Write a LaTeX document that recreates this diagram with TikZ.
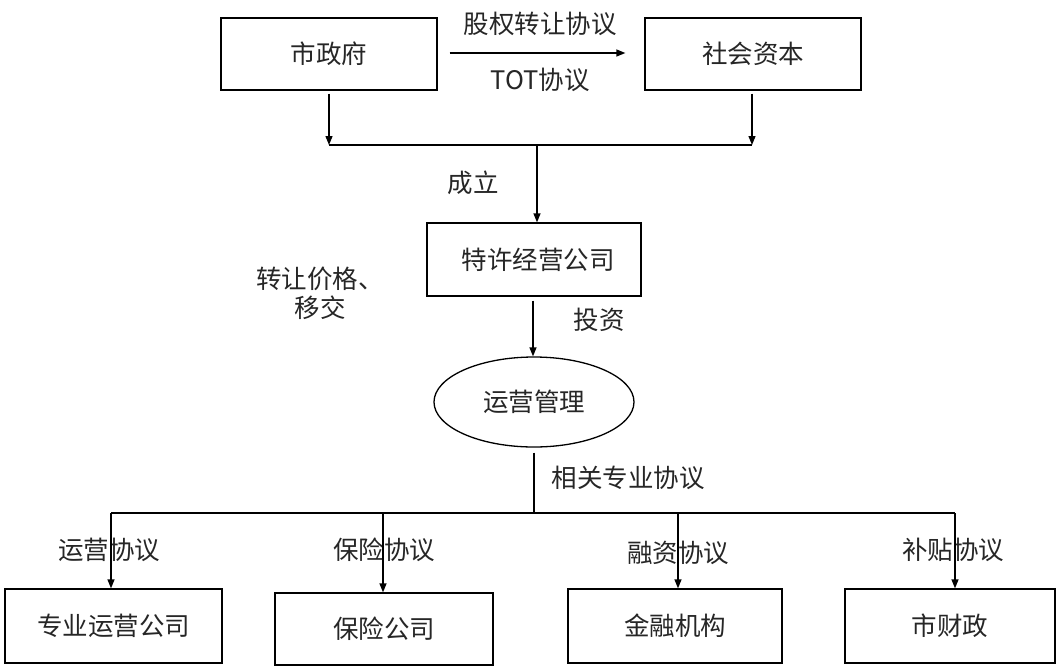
\documentclass[tikz,border=0pt]{standalone}
\usepackage{fontspec}
\setmainfont{Noto Sans CJK SC}
\usetikzlibrary{arrows.meta,shapes.geometric}
\begin{document}
\begin{tikzpicture}[x=1pt,y=-1pt,
  every node/.style={font=\fontsize{25.5}{31}\selectfont, text=black!85},
  box/.style={draw, line width=1.3pt, rectangle, inner sep=0pt},
  oval/.style={draw, line width=1.3pt, ellipse, inner sep=0pt, minimum width=200pt, minimum height=90pt},
  lbl/.style={inner sep=0pt},
  conn/.style={line width=1.3pt},
  arr/.style={conn, -{Triangle[length=9pt,width=7pt]}}]
\useasboundingbox (0,0) rectangle (1060,667);
% top boxes
\node[box, minimum width=216pt, minimum height=72pt] (gov) at (329,54) {市政府};
\node[box, minimum width=216pt, minimum height=72pt] (soc) at (753,54) {社会资本};
\node[box, minimum width=214pt, minimum height=73pt] (fr) at (534,259.5) {\hspace*{8pt}特许经营公司};
\node[oval] (op) at (534,402) {运营管理};
% bottom boxes
\node[box, minimum width=217pt, minimum height=74pt] (b1) at (113.5,626) {专业运营公司};
\node[box, minimum width=218pt, minimum height=72pt] (b2) at (384,629) {保险公司};
\node[box, minimum width=214pt, minimum height=74pt] (b3) at (675,626) {金融机构};
\node[box, minimum width=210pt, minimum height=74pt] (b4) at (950,626) {市财政};
% labels
\node[lbl] (l1) at (540,24) {股权转让协议};
\node[lbl] (l2) at (540,80) {TOT协议};
\node[lbl] (l3) at (473,183) {成立};
\node[lbl, align=center] (l4) at (320,293) {转让价格、\\[-2pt]移交};
\node[lbl] (l5) at (599,320) {投资};
\node[lbl] (l6) at (628,478) {相关专业协议};
\node[lbl] (l7) at (109,550) {运营协议};
\node[lbl] (l8) at (384,550) {保险协议};
\node[lbl] (l9) at (678,553) {融资协议};
\node[lbl] (l10) at (953,550) {补贴协议};
% coordinates
\coordinate (j1) at (329,145);
\coordinate (j2) at (752,145);
\coordinate (jm) at (537,145);
\coordinate (k0) at (534,513);
\coordinate (k1) at (111,513);
\coordinate (k2) at (383,513);
\coordinate (k3) at (678,513);
\coordinate (k4) at (955,513);
% connectors
\draw[arr] ([xshift=12pt,yshift=1pt]gov.east) -- ([xshift=-19pt,yshift=1pt]soc.west);
\draw[arr] ([yshift=-3pt]gov.south) -- (j1);
\draw[arr] ([yshift=-3pt]soc.south -| j2) -- (j2);
\draw[conn] (j1) -- (j2);
\draw[arr] (jm) -- (jm |- fr.north);
\draw[arr] ([yshift=-4pt]fr.south -| 533,0) -- (op.north -| 533,0);
\draw[conn] ([yshift=-5pt]op.south) -- (k0);
\draw[conn] (k1) -- (k4);
\draw[arr] (k1) -- (k1 |- b1.north);
\draw[arr] (k2) -- (k2 |- b2.north);
\draw[arr] (k3) -- (k3 |- b3.north);
\draw[arr] (k4) -- (k4 |- b4.north);
\end{tikzpicture}
\end{document}
